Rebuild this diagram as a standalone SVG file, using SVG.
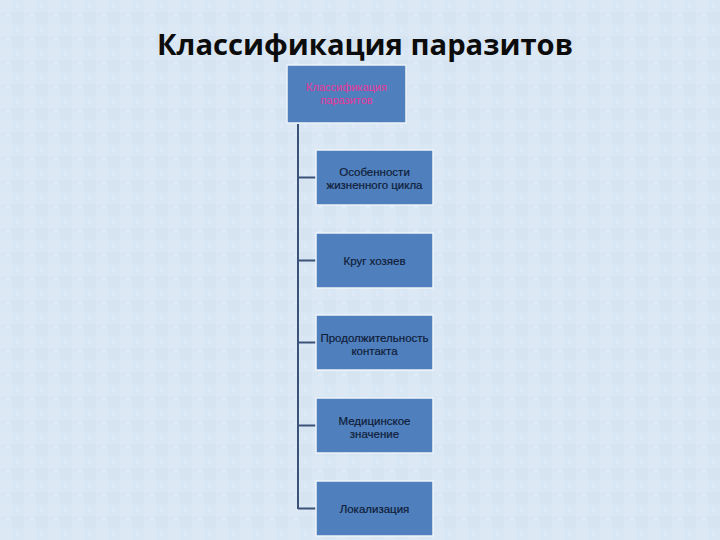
<svg xmlns="http://www.w3.org/2000/svg" width="720" height="540" viewBox="0 0 720 540">
<defs>
<pattern id="tex" width="24" height="24" patternUnits="userSpaceOnUse">
<rect width="24" height="24" fill="#d9e6f3"/>
<rect x="0" y="0" width="12" height="12" fill="#dce8f4"/>
<rect x="12" y="12" width="12" height="12" fill="#d6e3f1"/>
<rect x="6" y="14" width="4" height="3" fill="#e1ebf6"/>
<rect x="16" y="4" width="3" height="4" fill="#e0eaf6"/>
</pattern>
<style>
.box{fill:#4f80bd;stroke:#eef3f9;stroke-width:1.5}
.lbl{font-family:"Liberation Sans",Arial,sans-serif;font-size:11.5px;fill:#0f1c38;text-anchor:middle;stroke:#0f1c38;stroke-width:0.2}
.top{font-family:"Liberation Sans",Arial,sans-serif;font-size:11px;fill:#e8369a;text-anchor:middle}
.con{stroke:#3b5378;stroke-width:2;fill:none}
</style>
</defs>
<rect width="720" height="540" fill="url(#tex)"/>
<text x="365" y="55" font-family="'Open Sans','Liberation Sans',sans-serif" font-weight="bold" font-size="28" fill="#0c0c0c" text-anchor="middle" textLength="416" lengthAdjust="spacingAndGlyphs">Классификация паразитов</text>
<g id="connectors">
<path class="con" d="M298,124 V509"/>
<path class="con" d="M298,177.5 H316 M298,260.5 H316 M298,342.5 H316 M298,425.5 H316 M298,508.5 H316"/>
</g>
<g id="root">
<rect class="box" x="287" y="65" width="119" height="58"/>
<text class="top" x="346.5" y="91">Классификация</text>
<text class="top" x="346.5" y="104">паразитов</text>
</g>
<g id="n1">
<rect class="box" x="316" y="150" width="117" height="55"/>
<text class="lbl" x="374.5" y="176">Особенности</text>
<text class="lbl" x="374.5" y="189">жизненного цикла</text>
</g>
<g id="n2">
<rect class="box" x="316" y="233" width="117" height="55"/>
<text class="lbl" x="374.5" y="265">Круг хозяев</text>
</g>
<g id="n3">
<rect class="box" x="316" y="315" width="117" height="55"/>
<text class="lbl" x="374.5" y="342">Продолжительность</text>
<text class="lbl" x="374.5" y="355">контакта</text>
</g>
<g id="n4">
<rect class="box" x="316" y="398" width="117" height="55"/>
<text class="lbl" x="374.5" y="425">Медицинское</text>
<text class="lbl" x="374.5" y="438">значение</text>
</g>
<g id="n5">
<rect class="box" x="316" y="481" width="117" height="55"/>
<text class="lbl" x="374.5" y="513">Локализация</text>
</g>
</svg>
